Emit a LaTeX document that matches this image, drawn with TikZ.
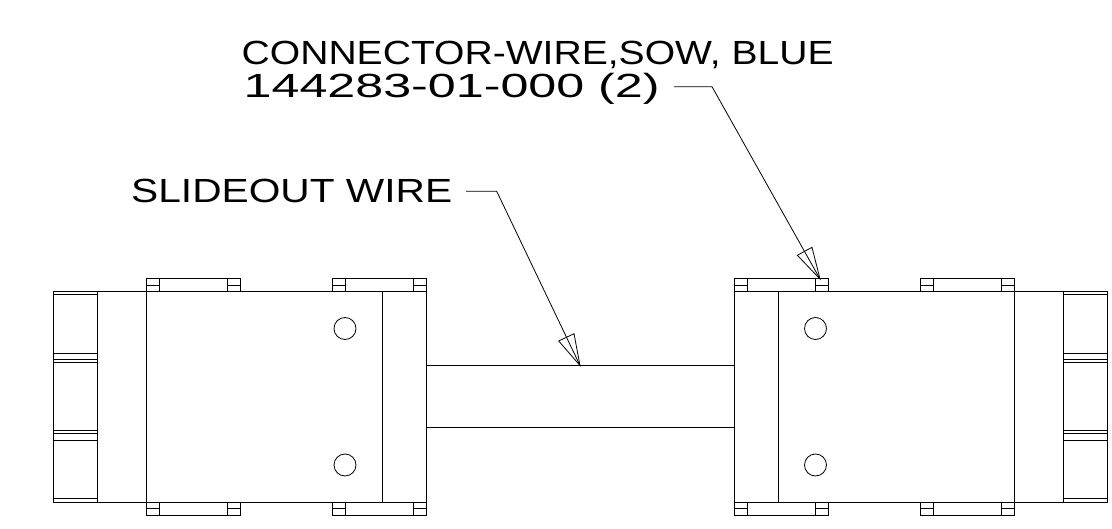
\documentclass[tikz,border=0pt]{standalone}
\usepackage{fontspec}
\usepackage{graphicx}
\setmainfont{Liberation Sans}
\tikzset{x=1pt,y=-1pt,
  ln/.style={line width=0.8pt,black},
  lbl/.style={inner sep=0pt,anchor=base west,text=black},
  hole/.style={circle,draw,line width=0.8pt,minimum size=22pt,inner sep=0pt}}
\newcommand{\lbltext}[2]{\resizebox{#1pt}{\height}{\fontsize{33.5}{36}\selectfont #2}}
\newcommand{\tabpair}[2]{% x of tab left, x of tab right
  \draw[ln] (#1,291.5)--(#1,278.5)--(#2,278.5)--(#2,291.5);
  \draw[ln] (#1,285)--(#1+13,285) (#2-13,285)--(#2,285);
  \draw[ln] (#1+13,278.5)--(#1+13,291.5) (#2-13,278.5)--(#2-13,291.5);
  \draw[ln] (#1,502)--(#1,515)--(#2,515)--(#2,502);
  \draw[ln] (#1,508.5)--(#1+13,508.5) (#2-13,508.5)--(#2,508.5);
  \draw[ln] (#1+13,502)--(#1+13,515) (#2-13,502)--(#2-13,515);
}
\newcommand{\plugblock}[2]{%
  \draw[ln] (#1,291.5) rectangle (#2,502);
  \foreach \yy in {294.5,353,359.5,362.5,430,433,440,498.5}
    \draw[ln] (#1,\yy)--(#2,\yy);
}
\begin{document}
\begin{tikzpicture}
\useasboundingbox (0,0) rectangle (1112,529);
\fill[white] (0,0) rectangle (1112,529);
% left body
\draw[ln] (53.5,291.5)--(426,291.5) (53.5,502)--(426,502);
\draw[ln] (146.5,291.5)--(146.5,502) (382.5,291.5)--(382.5,502) (426,291.5)--(426,502);
\plugblock{53.5}{97.5}
\tabpair{146.5}{240}
\tabpair{332.5}{426}
\node[hole] (h1) at (345,328.5) {};
\node[hole] (h2) at (345,465) {};
% wire
\draw[ln] (426,365.5)--(734.5,365.5) (426,427.5)--(734.5,427.5);
% right body
\draw[ln] (734.5,291.5)--(1107.5,291.5) (734.5,502)--(1107.5,502);
\draw[ln] (734.5,291.5)--(734.5,502) (778,291.5)--(778,502) (1014.5,291.5)--(1014.5,502);
\plugblock{1063.5}{1107.5}
\tabpair{734.5}{828.5}
\tabpair{920.5}{1014.5}
\node[hole] (h3) at (815.5,328.5) {};
\node[hole] (h4) at (815.5,465) {};
% labels
\node[lbl] (t1) at (241.5,64.3) {\lbltext{592}{CONNECTOR-WIRE,SOW, BLUE}};
\node[lbl] (t2) at (243.5,98) {\lbltext{416}{144283-01-000 (2)}};
\node[lbl] (t3) at (131,202.7) {\lbltext{321}{SLIDEOUT WIRE}};
% leaders
\coordinate (tipa) at (820,279);
\coordinate (tipb) at (580,365.5);
\coordinate (ka) at (712,86.7);
\coordinate (kb) at (496.7,191.3);
\coordinate (sa) at (674,86.7);
\coordinate (sb) at (466,191.3);
\draw[ln] (sa)--(ka)--(tipa);
\draw[ln] (sb)--(kb)--(tipb);
\draw[ln] (tipa)--(797.3,255.3)--(812,247.3)--cycle;
\draw[ln] (tipb)--(558.7,341)--(574,333.7)--cycle;
\end{tikzpicture}
\end{document}
